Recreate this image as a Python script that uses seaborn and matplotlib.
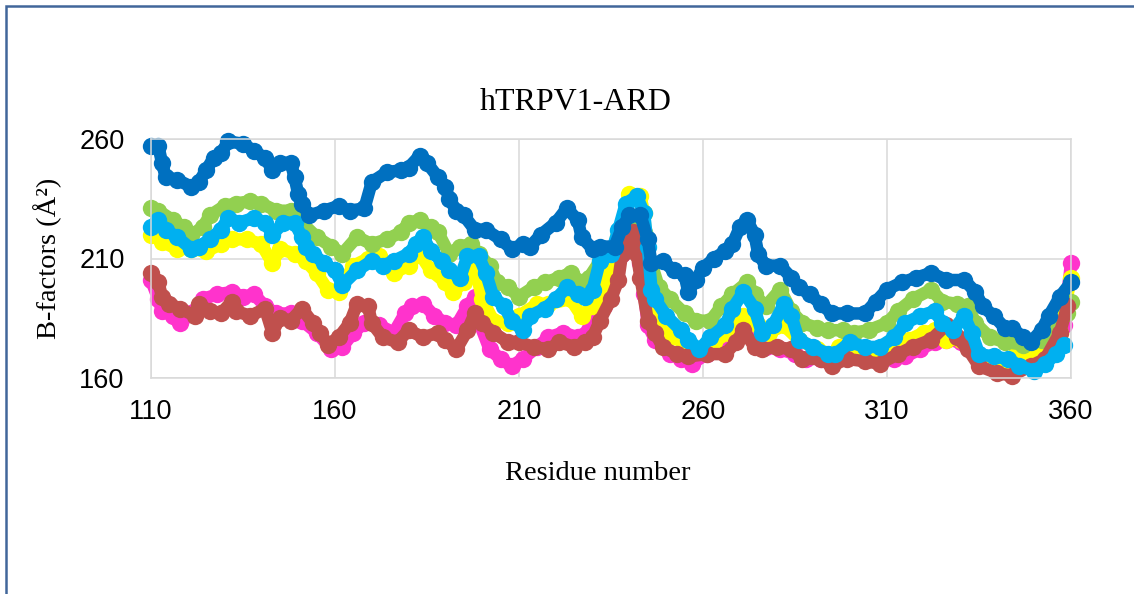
import matplotlib
matplotlib.use("Agg")
import matplotlib.pyplot as plt
from matplotlib.patches import Rectangle
import seaborn as sns

sns.set_style("white")
plt.rcParams['font.family'] = ['Liberation Sans', 'DejaVu Sans']
plt.rcParams['text.color'] = 'black'
plt.rcParams['axes.labelcolor'] = 'black'

# --- data (residue number, B-factor) ---
blue_res = [110, 112, 113, 114, 117, 121, 123, 125, 127, 129, 131, 135, 138, 141, 143, 145, 148, 149, 150, 151,
            153, 157, 161, 164, 168, 170, 174, 178, 180, 183, 185, 188, 190, 191, 193, 195, 198, 201, 205, 208,
            211, 213, 216, 220, 223, 226, 227, 230, 232, 236, 238, 240, 243, 245, 246, 249, 252, 255, 256, 258,
            260, 263, 266, 268, 270, 272, 274, 275, 277, 281, 284, 286, 289, 292, 295, 299, 304, 307, 310, 314,
            318, 322, 326, 331, 334, 336, 339, 342, 344, 347, 349, 352, 354, 357, 360]
blue_b = [257, 257, 250, 244, 243, 240, 242, 247, 252, 254, 259, 258, 255, 252, 247, 250, 250, 244, 237, 233,
          228, 230, 232, 230, 231, 242, 246, 247, 248, 253, 250, 244, 240, 235, 230, 228, 222, 222, 218, 214,
          216, 215, 220, 225, 231, 226, 219, 214, 215, 215, 223, 228, 228, 218, 208, 209, 205, 203, 196, 201,
          206, 210, 213, 216, 223, 226, 220, 212, 207, 207, 202, 198, 195, 191, 187, 187, 187, 192, 197, 200,
          202, 204, 201, 201, 196, 190, 186, 181, 181, 177, 175, 180, 186, 194, 200]

lightblue_res = [110, 112, 114, 117, 121, 123, 126, 129, 131, 134, 138, 141, 143, 146, 149, 151, 152, 154, 157, 160,
                 162, 166, 170, 173, 176, 180, 182, 184, 186, 189, 191, 194, 196, 199, 201, 203, 206, 208, 211, 213,
                 217, 220, 223, 226, 228, 230, 232, 235, 237, 239, 242, 244, 245, 246, 247, 250, 254, 256, 259, 262,
                 266, 268, 271, 274, 276, 279, 282, 284, 286, 290, 294, 296, 300, 304, 308, 312, 315, 319, 323, 325,
                 328, 331, 333, 335, 339, 343, 346, 350, 353, 356, 358]
lightblue_b = [223, 226, 222, 219, 214, 215, 218, 222, 227, 225, 227, 225, 220, 225, 225, 219, 215, 212, 208, 205,
               199, 205, 209, 207, 209, 212, 216, 219, 213, 209, 205, 202, 211, 211, 204, 194, 190, 184, 180, 186,
               189, 193, 198, 195, 194, 197, 209, 212, 222, 233, 236, 229, 215, 197, 193, 186, 180, 176, 172, 177,
               182, 189, 196, 189, 179, 182, 191, 186, 176, 173, 170, 170, 175, 173, 173, 177, 183, 186, 188, 183,
               180, 186, 179, 170, 169, 168, 165, 163, 166, 170, 174]

green_res = [110, 112, 116, 119, 121, 124, 126, 130, 133, 137, 140, 144, 148, 151, 155, 159, 162, 166, 170, 174,
             178, 180, 183, 186, 188, 191, 194, 197, 199, 202, 204, 207, 210, 214, 217, 221, 224, 227, 229, 232,
             234, 237, 241, 244, 246, 248, 251, 255, 258, 262, 265, 268, 272, 274, 277, 281, 284, 287, 291, 294,
             298, 301, 305, 310, 313, 317, 322, 325, 329, 332, 334, 338, 342, 347, 352, 355, 359, 360]
green_b = [231, 230, 226, 223, 220, 223, 228, 232, 233, 234, 233, 230, 230, 225, 219, 215, 212, 219, 216, 218,
           221, 225, 226, 223, 221, 212, 215, 216, 212, 207, 200, 198, 194, 198, 200, 202, 204, 200, 202, 209,
           212, 218, 223, 221, 208, 198, 193, 187, 184, 184, 190, 195, 200, 195, 190, 197, 188, 183, 181, 180,
           180, 179, 180, 183, 188, 193, 197, 192, 191, 190, 183, 177, 175, 174, 176, 179, 187, 192]

yellow_res = [110, 113, 117, 121, 125, 129, 132, 136, 140, 143, 145, 149, 152, 155, 158, 161, 165, 169, 172, 176,
              180, 183, 186, 190, 192, 195, 198, 200, 203, 207, 210, 215, 218, 224, 227, 230, 232, 235, 237, 240,
              243, 244, 245, 246, 248, 251, 255, 258, 263, 267, 271, 275, 278, 282, 286, 291, 295, 297, 303, 308,
              313, 316, 320, 323, 326, 330, 333, 336, 341, 345, 349, 353, 357, 360]
yellow_b = [220, 217, 214, 214, 213, 216, 218, 218, 216, 208, 214, 212, 209, 204, 197, 196, 207, 210, 211, 204,
            207, 212, 205, 200, 196, 200, 207, 193, 184, 183, 186, 191, 191, 193, 186, 190, 194, 205, 219, 237,
            236, 229, 209, 190, 183, 177, 175, 172, 175, 179, 186, 182, 179, 182, 176, 172, 170, 173, 172, 170,
            175, 176, 179, 180, 176, 176, 172, 168, 166, 170, 170, 175, 179, 202]

magenta_res = [110, 112, 113, 116, 118, 121, 124, 128, 132, 135, 138, 141, 144, 148, 151, 155, 159, 162, 165, 168,
               172, 176, 179, 181, 184, 187, 190, 193, 196, 198, 199, 202, 205, 208, 211, 215, 218, 222, 226, 229,
               231, 233, 236, 238, 241, 243, 244, 245, 247, 251, 254, 257, 261, 266, 269, 271, 274, 277, 281, 285,
               288, 292, 295, 301, 306, 312, 315, 319, 323, 326, 330, 334, 337, 342, 346, 350, 354, 358, 360]
magenta_b = [201, 193, 188, 186, 183, 187, 193, 195, 196, 194, 195, 190, 187, 187, 184, 179, 172, 173, 179, 183,
             182, 179, 187, 190, 191, 186, 183, 182, 190, 194, 184, 172, 168, 165, 168, 173, 177, 179, 177, 180,
             184, 190, 201, 212, 216, 208, 195, 182, 176, 170, 168, 166, 170, 173, 179, 184, 179, 173, 172, 170,
             168, 168, 168, 169, 168, 168, 169, 172, 175, 176, 175, 170, 166, 165, 168, 169, 173, 182, 208]

brown_res = [110, 112, 113, 115, 118, 122, 123, 126, 129, 132, 133, 137, 141, 143, 145, 148, 151, 154, 156, 158,
             161, 164, 166, 169, 170, 173, 177, 180, 184, 188, 190, 193, 196, 198, 200, 203, 207, 210, 214, 218,
             221, 225, 228, 230, 232, 235, 237, 238, 241, 242, 243, 245, 247, 249, 253, 256, 261, 266, 269, 271,
             274, 276, 280, 284, 287, 292, 295, 299, 304, 308, 313, 317, 322, 326, 329, 332, 335, 340, 344, 349,
             353, 357, 359]
brown_b = [204, 200, 194, 191, 189, 186, 191, 188, 187, 192, 188, 186, 189, 179, 185, 184, 189, 183, 179, 174,
           177, 183, 191, 190, 183, 177, 175, 180, 177, 179, 176, 172, 180, 187, 183, 179, 175, 175, 173, 172,
           175, 173, 175, 177, 184, 193, 201, 212, 221, 212, 202, 184, 179, 173, 170, 169, 170, 170, 175, 180,
           173, 172, 173, 172, 168, 168, 165, 168, 167, 166, 170, 173, 176, 182, 177, 172, 165, 162, 161, 165,
           168, 179, 190]

x_ticks = [110, 160, 210, 260, 310, 360]
y_ticks = [160, 210, 260]

# draw order: last one ends up on top
series = [
    (magenta_res, magenta_b, '#FF33CC'),
    (yellow_res, yellow_b, '#FFFF00'),
    (green_res, green_b, '#92D050'),
    (brown_res, brown_b, '#C0504D'),
    (lightblue_res, lightblue_b, '#00B0F0'),
    (blue_res, blue_b, '#0070C0'),
]

fig = plt.figure(figsize=(11.34, 5.94), dpi=100)
ax = fig.add_axes([151 / 1134, 216 / 594, 920 / 1134, 239 / 594])

for res, vals, col in series:
    sns.lineplot(x=res, y=vals, ax=ax, color=col, sort=False, linewidth=9, marker='o',
                 markersize=12.5, markeredgewidth=0, solid_capstyle='round', solid_joinstyle='round',
                 clip_on=False)

ax.set_xlim(110, 360)
ax.set_ylim(160, 260)
ax.set_xticks(x_ticks)
ax.set_yticks(y_ticks)
ax.grid(True, color='#D9D9D9', linewidth=1.1)
ax.set_axisbelow(True)
for sp in ax.spines.values():
    sp.set_color('#D9D9D9')
    sp.set_linewidth(1.1)
ax.tick_params(length=0, labelsize=19.5, labelcolor='black')
ax.tick_params(axis='x', pad=15)
ax.tick_params(axis='y', pad=19)

serif = ['Liberation Serif', 'DejaVu Serif']
fig.text(576 / 1134, 1 - 102 / 594, 'hTRPV1-ARD', family=serif, fontsize=23, ha='center', va='center')
fig.text(598 / 1134, 1 - 474 / 594, 'Residue number', family=serif, fontsize=20.5, ha='center', va='center')
ax.set_ylabel('B-factors (Å²)', family=serif, fontsize=20.5, labelpad=12)

# chart frame (only top and left edges fall inside the image)
fig.patches.append(Rectangle((6 / 1134, -0.2), 1.3, 1.2 - 5.5 / 594, transform=fig.transFigure,
                             fill=False, edgecolor='#41669A', linewidth=1.8))

fig.savefig('out.png', dpi=100)
